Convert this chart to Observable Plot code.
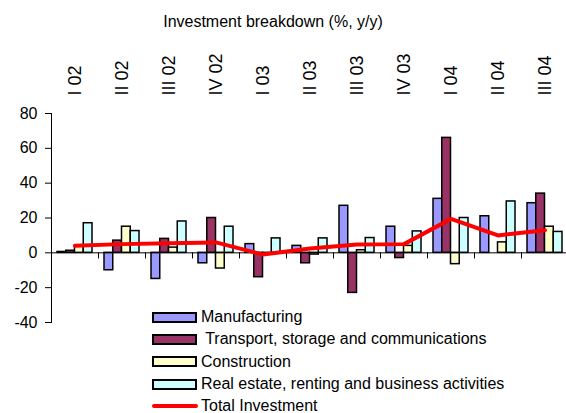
<!DOCTYPE html>
<html>
<head>
<meta charset="utf-8">
<script src="https://cdn.jsdelivr.net/npm/d3@7"></script>
<script src="https://cdn.jsdelivr.net/npm/@observablehq/plot@0.6"></script>
<style>
  html, body { margin: 0; padding: 0; background: #fff; overflow: hidden; }
  #wrap { position: relative; width: 566px; height: 413px; font-family: "Liberation Sans", Arial, sans-serif; color: #000; }
  #chart { position: absolute; left: 0; top: 0; }
  #title { position: absolute; left: 273px; top: 12px; transform: translateX(-50%); font-size: 16px; line-height: 20px; white-space: nowrap; }
  #legend { position: absolute; left: 152px; top: 306px; font-size: 16px; }
  .row { display: flex; align-items: center; height: 22.3px; white-space: pre; }
  .sw { width: 41px; height: 7px; border: 2px solid #000; margin-right: 4px; }
  .ln { width: 46px; height: 4px; background: #ff0000; margin-right: 3px; border-radius: 2px; }
</style>
</head>
<body>
<div id="wrap">
  <div id="chart"></div>
  <div id="title"></div>
  <div id="legend"></div>
</div>
<script>
const categories = ["I 02","II 02","III 02","IV 02","I 03","II 03","III 03","IV 03","I 04","II 04","III 04"];
const manufacturing = [0.5, -10, -15, -6, 5, 4, 27, 15, 31, 21, 28.5];
const transport = [1.2, 7, 8, 20, -14, -6, -23, -3, 66, 0, 34];
const construction = [4, 15, 3, -9, -1, -1, 1.5, 4, -6.5, 6, 15];
const realEstate = [17, 12.5, 18, 15, 8.3, 8.3, 8.5, 12.3, 20, 29.5, 12];
const totalInvestment = [4, 5, 5.5, 6, -1, 2.5, 4.8, 5, 19.5, 10, 13];
const yTicks = [-40, -20, 0, 20, 40, 60, 80];

const seriesNames = ["Manufacturing", " Transport, storage and communications", "Construction", "Real estate, renting and business activities"];
const seriesValues = [manufacturing, transport, construction, realEstate];
const seriesColors = ["#9999ff", "#993366", "#ffffcc", "#ccffff"];
const lineName = "Total Investment";
const titleText = "Investment breakdown (%, y/y)";

const bandW = 47, pad = 6, barW = (bandW - 2 * pad) / 4;

const barMarks = seriesValues.map((vals, i) =>
  Plot.barY(categories.map((c, j) => ({cat: c, v: vals[j]})), {
    x: "cat", y: "v", fill: seriesColors[i], stroke: "#000", strokeWidth: 1.5,
    insetLeft: pad + i * barW, insetRight: pad + (3 - i) * barW
  })
);

const chart = Plot.plot({
  width: 566,
  height: 413,
  marginLeft: 51,
  marginRight: 0,
  marginTop: 113,
  marginBottom: 91,
  style: {fontFamily: "'Liberation Sans', Arial, sans-serif", fontSize: "16px", color: "#000", background: "#fff"},
  x: {type: "band", domain: categories, range: [51, 568], padding: 0, axis: null},
  y: {domain: [-40, 80], label: null},
  marks: [
    ...barMarks,
    Plot.ruleY([0], {stroke: "#000", strokeWidth: 1}),
    Plot.ruleX(categories, {x: d => d, dx: -bandW / 2, y1: 0, y2: -3.5, stroke: "#000", strokeWidth: 1}),
    Plot.line(categories.map((c, j) => ({cat: c, v: totalInvestment[j]})), {x: "cat", y: "v", stroke: "#ff0000", strokeWidth: 4, strokeLinejoin: "round"}),
    Plot.frame({anchor: "left", stroke: "#000", strokeWidth: 1}),
    Plot.axisY({ticks: yTicks, tickSize: 6, tickPadding: 8, tickFormat: d => String(d), fontSize: 16, stroke: "#000", label: null}),
    Plot.text(categories, {x: d => d, frameAnchor: "top", rotate: -90, textAnchor: "start", lineAnchor: "middle", dy: -18, fontSize: 18, fill: "#000"})
  ]
});
document.getElementById("chart").appendChild(chart);
document.getElementById("title").textContent = titleText;

const legend = document.getElementById("legend");
seriesNames.forEach((n, i) => {
  const row = document.createElement("div");
  row.className = "row";
  const sw = document.createElement("div");
  sw.className = "sw";
  sw.style.background = seriesColors[i];
  const t = document.createElement("span");
  t.textContent = n;
  row.appendChild(sw); row.appendChild(t);
  legend.appendChild(row);
});
{
  const row = document.createElement("div");
  row.className = "row";
  const ln = document.createElement("div");
  ln.className = "ln";
  const t = document.createElement("span");
  t.textContent = lineName;
  row.appendChild(ln); row.appendChild(t);
  legend.appendChild(row);
}
</script>
</body>
</html>
